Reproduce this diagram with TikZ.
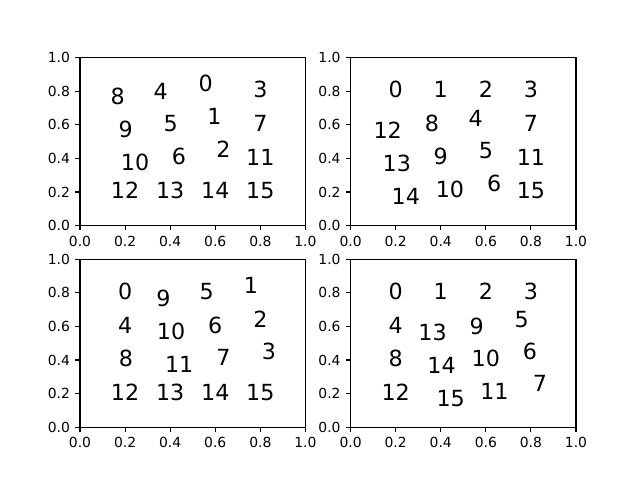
\documentclass[tikz,border=0pt]{standalone}
\usepackage{fontspec}
\setmainfont{DejaVu Sans}
\begin{document}
\begin{tikzpicture}[x=0.72pt,y=-0.72pt,
  spine/.style={line width=0.8pt, line join=miter},
  tickmark/.style={line width=0.8pt},
  ticklbl/.style={inner sep=0pt, font=\fontsize{10}{12}\selectfont},
  num/.style={inner sep=0pt, anchor=base, font=\fontsize{16}{19}\selectfont}]
\useasboundingbox (0,0) rectangle (640,480);
% axes frames, ticks and tick labels
\foreach \nm/\ax/\ay in {tl/80/57.6, tr/350.55/57.6, bl/80/259.2, br/350.55/259.2}{
  \draw[spine] (\ax,\ay) rectangle ++(225.45,168);
  \foreach \t/\lbl [count=\i] in {0/0.0, 0.2/0.2, 0.4/0.4, 0.6/0.6, 0.8/0.8, 1/1.0}{
    \draw[tickmark] (\ax+225.45*\t,\ay+168) -- ++(0,4.86);
    \node[ticklbl, anchor=base] (\nm-xt\i) at (\ax+225.45*\t,\ay+188.5) {\lbl};
    \draw[tickmark] (\ax,\ay+168-168*\t) -- ++(-4.86,0);
    \node[ticklbl, anchor=base east] (\nm-yt\i) at (\ax-9.72,\ay+168-168*\t+5.06) {\lbl};
  }
}
% numbers
\foreach \px/\py/\lab in {0.167/0.759/8, 0.358/0.793/4, 0.557/0.836/0, 0.8/0.8/3,
  0.203/0.565/9, 0.402/0.6/5, 0.596/0.640/1, 0.8/0.6/7,
  0.244/0.366/10, 0.439/0.406/6, 0.636/0.446/2, 0.8/0.4/11,
  0.2/0.2/12, 0.4/0.2/13, 0.6/0.2/14, 0.8/0.2/15}
  \node[num] (tl-\lab) at (80+225.45*\px, 57.6+168-168*\py+6.7) {\lab};
\foreach \px/\py/\lab in {0.2/0.8/0, 0.4/0.8/1, 0.6/0.8/2, 0.8/0.8/3,
  0.165/0.561/12, 0.361/0.6/8, 0.555/0.630/4, 0.8/0.6/7,
  0.205/0.362/13, 0.4/0.402/9, 0.6/0.437/5, 0.8/0.4/11,
  0.245/0.168/14, 0.441/0.208/10, 0.637/0.243/6, 0.8/0.2/15}
  \node[num] (tr-\lab) at (350.55+225.45*\px, 57.6+168-168*\py+6.7) {\lab};
\foreach \px/\py/\lab in {0.2/0.8/0, 0.370/0.759/9, 0.562/0.798/5, 0.758/0.834/1,
  0.2/0.6/4, 0.404/0.564/10, 0.6/0.6/6, 0.8/0.636/2,
  0.204/0.4/8, 0.44/0.366/11, 0.636/0.408/7, 0.838/0.441/3,
  0.2/0.2/12, 0.4/0.2/13, 0.6/0.2/14, 0.8/0.2/15}
  \node[num] (bl-\lab) at (80+225.45*\px, 259.2+168-168*\py+6.7) {\lab};
\foreach \px/\py/\lab in {0.2/0.8/0, 0.4/0.8/1, 0.6/0.8/2, 0.8/0.8/3,
  0.2/0.6/4, 0.364/0.554/13, 0.56/0.594/9, 0.759/0.636/5,
  0.2/0.4/8, 0.404/0.362/14, 0.6/0.4/10, 0.796/0.441/6,
  0.2/0.2/12, 0.444/0.164/15, 0.638/0.203/11, 0.84/0.253/7}
  \node[num] (br-\lab) at (350.55+225.45*\px, 259.2+168-168*\py+6.7) {\lab};
\end{tikzpicture}
\end{document}
